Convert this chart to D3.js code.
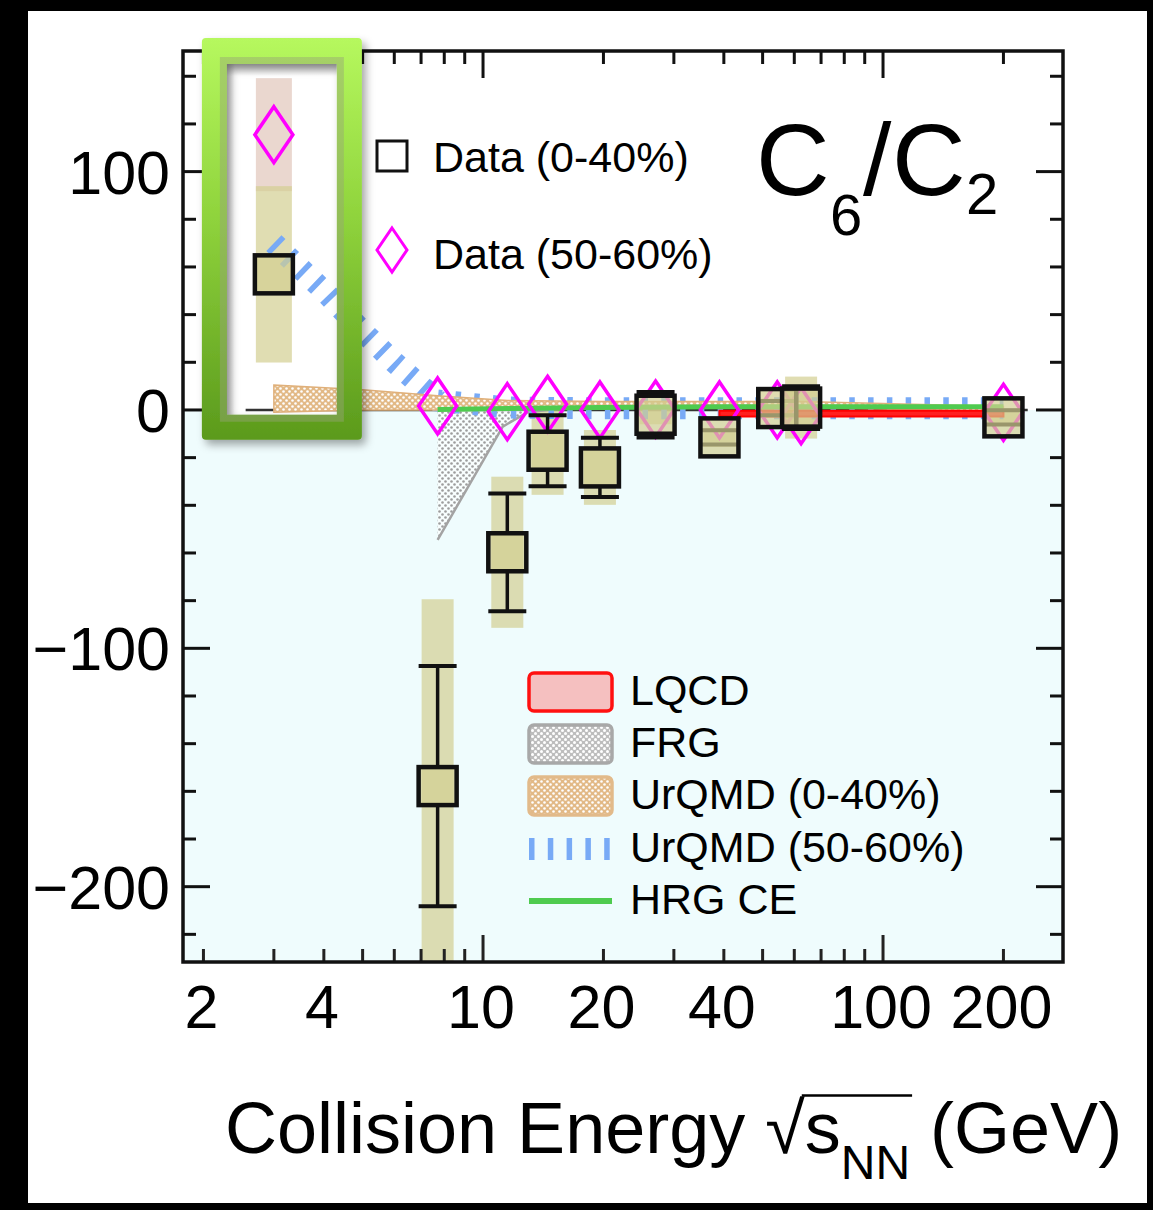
<!DOCTYPE html>
<html>
<head>
<meta charset="utf-8">
<script src="https://cdn.jsdelivr.net/npm/d3@7"></script>
<style>
  html, body { margin: 0; padding: 0; background: #000; }
  svg { display: block; }
  text { font-family: "Liberation Sans", Arial, Helvetica, sans-serif; fill: #000; }
</style>
</head>
<body>
<svg id="chart" width="1153" height="1210"></svg>
<script>
// ---- Measured points: collision energies (GeV) ----
const energies = [3, 7.7, 11.5, 14.5, 19.6, 27, 39, 54.4, 62.4, 200];

// C6/C2, 0-40% centrality
const central      = [56.9, -157.8, -59.7, -17.1, -24.1, -2.0, -11.5, 0.8, 1.0, -3.1];
const centralStat  = [4, 50.4, 24.7, 14.9, 12.4, 9.5, 3, 3, 9, 3];
const centralSys   = [37, 78.4, 31.7, 18.5, 15.7, 4, 4, 4, 13, 3];

// C6/C2, 50-60% centrality
const peripheral    = [115.5, 1.7, -0.7, 2.4, 0.0, 0.4, 0.0, 0.0, -2.4, -1.0];
const peripheralSys = [23.7, 0, 0, 0, 0, 0, 0, 0, 0, 0];

// ---- Model calculations ----
const lqcdEnergy = [39, 54.4, 62.4, 200];
const lqcdLow    = [-2.7, -2.7, -2.7, -2.7];
const lqcdHigh   = [-0.3, -0.3, -0.3, -0.3];

const frgEnergy = [7.7, 11.2, 12.9, 14.5];
const frgLow    = [-54.5, -7, -1, 0];
const frgHigh   = [0.5, 0.5, 0.5, 0.5];

const urqmdCentralEnergy = [3, 5, 7.7, 11.5, 20, 40, 62.4, 200];
const urqmdCentralLow    = [-1, 0, 0, 0.5, 1, 1, 1, -0.5];
const urqmdCentralHigh   = [10.5, 8.5, 6, 4, 3.5, 3.5, 3.5, 1.5];

const urqmdPeriphEnergy = [3, 4, 5, 6, 7.7, 11.5, 20, 40, 62.4, 200];
const urqmdPeriphValue  = [70, 50, 33, 20, 4, 1, 0.7, 0.7, 0.7, 0.7];

const hrgEnergy = [7.7, 11.5, 19.6, 39, 62.4, 200];
const hrgValue  = [0.2, 0.6, 1.0, 1.3, 1.3, 1.4];

// ---- Axis ticks ----
const xMajorTicks = [10, 100];
const xMinorTicks = [2, 3, 4, 5, 6, 7, 8, 9, 20, 30, 40, 50, 60, 70, 80, 90, 200];
const xTickLabels = [2, 4, 10, 20, 40, 100, 200];
const yMajorTicks = [-200, -100, 0, 100];
const yMinorTicks = [-220, -180, -160, -140, -120, -80, -60, -40, -20, 20, 40, 60, 80, 120, 140];
const yTickLabels = [-200, -100, 0, 100];

// ---------------------------------------------------------------
const W = 1153, H = 1210;
const svg = d3.select("#chart");
const plot = { left: 183, right: 1063, top: 51, bottom: 962 };

const x = d3.scaleLog().domain([1.778, 281.8]).range([plot.left, plot.right]);
const y = d3.scaleLinear().domain([-231.6, 150.6]).range([plot.bottom, plot.top]);

const defs = svg.append("defs");
defs.append("clipPath").attr("id", "plotClip")
  .append("rect").attr("x", plot.left).attr("y", plot.top)
  .attr("width", plot.right - plot.left).attr("height", plot.bottom - plot.top);

function dotPattern(id, bg, dot, r) {
  const p = defs.append("pattern").attr("id", id).attr("patternUnits", "userSpaceOnUse")
    .attr("width", 6).attr("height", 6);
  p.append("rect").attr("width", 6).attr("height", 6).attr("fill", bg);
  p.append("circle").attr("cx", 1.5).attr("cy", 1.5).attr("r", r).attr("fill", dot);
  p.append("circle").attr("cx", 4.5).attr("cy", 4.5).attr("r", r).attr("fill", dot);
}
dotPattern("frgFill", "rgba(255,255,255,0.55)", "#9c9c9c", 1.3);
dotPattern("frgKey", "#bdbdbd", "#ffffff", 1.5);
dotPattern("urqmdFill", "#e2b986", "#ffffff", 1.3);

const frameGrad = defs.append("linearGradient").attr("id", "frameGrad")
  .attr("x1", 0).attr("y1", 0).attr("x2", 0).attr("y2", 1);
frameGrad.append("stop").attr("offset", "0%").attr("stop-color", "#b6f85e");
frameGrad.append("stop").attr("offset", "45%").attr("stop-color", "#8fd33c");
frameGrad.append("stop").attr("offset", "100%").attr("stop-color", "#5b9a1c");

const topShade = defs.append("linearGradient").attr("id", "topShade")
  .attr("x1", 0).attr("y1", 0).attr("x2", 0).attr("y2", 1);
topShade.append("stop").attr("offset", "0%").attr("stop-color", "rgba(0,0,0,0.22)");
topShade.append("stop").attr("offset", "100%").attr("stop-color", "rgba(0,0,0,0)");
const leftShade = defs.append("linearGradient").attr("id", "leftShade")
  .attr("x1", 0).attr("y1", 0).attr("x2", 1).attr("y2", 0);
leftShade.append("stop").attr("offset", "0%").attr("stop-color", "rgba(0,0,0,0.14)");
leftShade.append("stop").attr("offset", "100%").attr("stop-color", "rgba(0,0,0,0)");

const shadow = defs.append("filter").attr("id", "frameShadow")
  .attr("x", "-20%").attr("y", "-10%").attr("width", "150%").attr("height", "130%");
shadow.append("feDropShadow").attr("dx", 4).attr("dy", 5).attr("stdDeviation", 4)
  .attr("flood-color", "#000").attr("flood-opacity", 0.35);

// page background
svg.append("rect").attr("width", W).attr("height", H).attr("fill", "#000");
svg.append("rect").attr("x", 28).attr("y", 11).attr("width", 1119).attr("height", 1192).attr("fill", "#fff");

// plot area: white above zero, pale cyan below
svg.append("rect").attr("x", plot.left).attr("y", plot.top)
  .attr("width", plot.right - plot.left).attr("height", y(0) - plot.top).attr("fill", "#ffffff");
svg.append("rect").attr("x", plot.left).attr("y", y(0))
  .attr("width", plot.right - plot.left).attr("height", plot.bottom - y(0)).attr("fill", "#effcfd");

// highlight box around the 3 GeV point
const box = { x0: x(3) - 72, x1: x(3) + 88, y0: y(150.6) - 13, y1: y(-12.5) };
const rim = 25;
svg.append("rect").attr("x", box.x0 + 18).attr("y", box.y0 + 19)
  .attr("width", box.x1 - box.x0 - 36).attr("height", box.y1 - box.y0 - 36).attr("fill", "#fff");

const g = svg.append("g").attr("clip-path", "url(#plotClip)");

// zero reference line
g.append("line").attr("x1", x(2.55)).attr("x2", x(230)).attr("y1", y(0)).attr("y2", y(0))
  .attr("stroke", "#333").attr("stroke-width", 2.5);

// systematic uncertainty boxes
const sysW = 32;
energies.forEach((e, i) => {
  if (peripheralSys[i] > 0) {
    g.append("rect").attr("x", x(e) - sysW / 2 - 2).attr("width", sysW + 4)
      .attr("y", y(peripheral[i] + peripheralSys[i]))
      .attr("height", y(peripheral[i] - peripheralSys[i]) - y(peripheral[i] + peripheralSys[i]))
      .attr("fill", "rgba(205,160,140,0.42)");
  }
});
energies.forEach((e, i) => {
  const w = i === 0 ? sysW + 4 : sysW;
  g.append("rect").attr("x", x(e) - w / 2).attr("width", w)
    .attr("y", y(central[i] + centralSys[i]))
    .attr("height", y(central[i] - centralSys[i]) - y(central[i] + centralSys[i]))
    .attr("fill", "rgba(211,206,146,0.7)");
});

// FRG band
const frgRows = frgEnergy.map((e, i) => ({ e, lo: frgLow[i], hi: frgHigh[i] }));
g.append("path").datum(frgRows)
  .attr("d", d3.area().x(d => x(d.e)).y0(d => y(d.lo)).y1(d => y(d.hi)))
  .attr("fill", "url(#frgFill)");
g.append("path").datum(frgRows)
  .attr("d", d3.line().x(d => x(d.e)).y(d => y(d.lo)))
  .attr("fill", "none").attr("stroke", "#a3a3a3").attr("stroke-width", 2.5);

// UrQMD 50-60%: thick dashed line
const upRows = urqmdPeriphEnergy.map((e, i) => ({ e, v: urqmdPeriphValue[i] }));
g.append("path").datum(upRows)
  .attr("d", d3.line().x(d => x(d.e)).y(d => y(d.v)))
  .attr("fill", "none").attr("stroke", "#78aaf6").attr("stroke-width", 22)
  .attr("stroke-dasharray", "5.5 13.3");

// UrQMD 0-40% band
const ucRows = urqmdCentralEnergy.map((e, i) => ({ e, lo: urqmdCentralLow[i], hi: urqmdCentralHigh[i] }));
g.append("path").datum(ucRows)
  .attr("d", d3.area().x(d => x(d.e)).y0(d => y(d.lo)).y1(d => y(d.hi)))
  .attr("fill", "url(#urqmdFill)").attr("stroke", "#e0b07a").attr("stroke-width", 1.5);

// HRG CE line
const hrgRows = hrgEnergy.map((e, i) => ({ e, v: hrgValue[i] }));
g.append("path").datum(hrgRows)
  .attr("d", d3.line().x(d => x(d.e)).y(d => y(d.v)))
  .attr("fill", "none").attr("stroke", "#4fcb4f").attr("stroke-width", 5);

// LQCD band
const lqRows = lqcdEnergy.map((e, i) => ({ e, lo: lqcdLow[i], hi: lqcdHigh[i] }));
g.append("path").datum(lqRows)
  .attr("d", d3.area().x(d => x(d.e)).y0(d => y(d.lo)).y1(d => y(d.hi)))
  .attr("fill", "#ff2020").attr("stroke", "#ff0000").attr("stroke-width", 2);

// 50-60% diamonds
const dW = 19, dH = 28;
energies.forEach((e, i) => {
  const cx = x(e), cy = y(peripheral[i]);
  g.append("path")
    .attr("d", `M${cx},${cy - dH}L${cx + dW},${cy}L${cx},${cy + dH}L${cx - dW},${cy}Z`)
    .attr("fill", "none").attr("stroke", "#ff00ff").attr("stroke-width", 3.5);
});

// 0-40% statistical error bars and squares
const sq = 38;
energies.forEach((e, i) => {
  const cx = x(e), cy = y(central[i]);
  const top = y(central[i] + centralStat[i]), bot = y(central[i] - centralStat[i]);
  if (cy - top > sq / 2) {
    g.append("line").attr("x1", cx).attr("x2", cx).attr("y1", top).attr("y2", cy - sq / 2)
      .attr("stroke", "#111").attr("stroke-width", 3.5);
    g.append("line").attr("x1", cx).attr("x2", cx).attr("y1", cy + sq / 2).attr("y2", bot)
      .attr("stroke", "#111").attr("stroke-width", 3.5);
  }
  if (i > 0) {
    [top, bot].forEach(yy => g.append("line").attr("x1", cx - sq / 2).attr("x2", cx + sq / 2)
      .attr("y1", yy).attr("y2", yy).attr("stroke", "#111").attr("stroke-width", 4));
  }
  g.append("rect").attr("x", cx - sq / 2).attr("y", cy - sq / 2).attr("width", sq).attr("height", sq)
    .attr("fill", "rgba(211,206,146,0.7)").attr("stroke", "#111").attr("stroke-width", 4.5);
});

// ---- frame and ticks ----
const axes = svg.append("g");
function tickSet(values, len) {
  values.forEach(v => {
    const px = x(v);
    axes.append("line").attr("x1", px).attr("x2", px).attr("y1", plot.bottom).attr("y2", plot.bottom - len)
      .attr("stroke", "#222").attr("stroke-width", 3);
    axes.append("line").attr("x1", px).attr("x2", px).attr("y1", plot.top).attr("y2", plot.top + len)
      .attr("stroke", "#111").attr("stroke-width", 3);
  });
}
tickSet(xMajorTicks, 27);
tickSet(xMinorTicks, 13);
function yTickSet(values, len) {
  values.forEach(v => {
    const py = y(v);
    axes.append("line").attr("x1", plot.left).attr("x2", plot.left + len).attr("y1", py).attr("y2", py)
      .attr("stroke", "#111").attr("stroke-width", 3);
    axes.append("line").attr("x1", plot.right).attr("x2", plot.right - len).attr("y1", py).attr("y2", py)
      .attr("stroke", "#111").attr("stroke-width", 3);
  });
}
yTickSet(yMajorTicks, 27);
yTickSet(yMinorTicks, 13);
axes.append("rect").attr("x", plot.left).attr("y", plot.top)
  .attr("width", plot.right - plot.left).attr("height", plot.bottom - plot.top)
  .attr("fill", "none").attr("stroke", "#111").attr("stroke-width", 3.5);

// tick labels
axes.selectAll("text.xl").data(xTickLabels).join("text").attr("class", "xl")
  .attr("x", d => x(d) - 2).attr("y", 1028).attr("text-anchor", "middle")
  .attr("font-size", 61).text(d => d);
axes.selectAll("text.yl").data(yTickLabels).join("text").attr("class", "yl")
  .attr("x", 170).attr("y", d => y(d)).attr("dy", "0.36em").attr("text-anchor", "end")
  .attr("font-size", 61).text(d => d < 0 ? "\u2212" + Math.abs(d) : d);

// axis title
const title = svg.append("text").attr("x", 225).attr("y", 1153).attr("font-size", 72);
title.append("tspan").text("Collision Energy ");
title.append("tspan").text("\u221A");
title.append("tspan").text("s");
title.append("tspan").attr("font-size", 48).attr("dy", 26).text("NN");
title.append("tspan").attr("dy", -26).text(" (GeV)");
{
  const node = title.node();
  const s = "Collision Energy ".length;
  const radEnd = node.getEndPositionOfChar(s);
  const nnEnd = node.getEndPositionOfChar(s + 3);
  svg.append("line").attr("x1", radEnd.x - 3).attr("x2", nnEnd.x + 2)
    .attr("y1", 1153 - 0.8 * 72).attr("y2", 1153 - 0.8 * 72)
    .attr("stroke", "#000").attr("stroke-width", 2.5);
}

// observable label C6/C2
const obs = svg.append("text").attr("font-size", 102);
obs.append("tspan").attr("x", 756).attr("y", 195).text("C");
obs.append("tspan").attr("x", 830).attr("y", 235).attr("font-size", 58).text("6");
obs.append("tspan").attr("x", 863).attr("y", 195).text("/");
obs.append("tspan").attr("x", 892).attr("y", 195).text("C");
obs.append("tspan").attr("x", 966).attr("y", 214).attr("font-size", 58).text("2");

// legend: data
svg.append("rect").attr("x", 377).attr("y", 141).attr("width", 30).attr("height", 30)
  .attr("fill", "none").attr("stroke", "#111").attr("stroke-width", 3);
svg.append("text").attr("x", 433).attr("y", 172).attr("font-size", 43).text("Data (0-40%)");
svg.append("path").attr("d", "M392,228L407,250L392,272L377,250Z")
  .attr("fill", "none").attr("stroke", "#ff00ff").attr("stroke-width", 3);
svg.append("text").attr("x", 433).attr("y", 269).attr("font-size", 43).text("Data (50-60%)");

// legend: models
const keyX = 529, keyW = 83, keyTextX = 630;
const keyRows = [692, 744, 796, 849, 901];
svg.append("rect").attr("x", keyX).attr("y", keyRows[0] - 19).attr("width", keyW).attr("height", 38)
  .attr("rx", 5).attr("fill", "#f5c0c0").attr("stroke", "#ff1010").attr("stroke-width", 3.5);
svg.append("rect").attr("x", keyX).attr("y", keyRows[1] - 19).attr("width", keyW).attr("height", 38)
  .attr("rx", 5).attr("fill", "url(#frgKey)").attr("stroke", "#a8a8a8").attr("stroke-width", 3.5);
svg.append("rect").attr("x", keyX).attr("y", keyRows[2] - 19).attr("width", keyW).attr("height", 38)
  .attr("rx", 5).attr("fill", "url(#urqmdFill)").attr("stroke", "#e2ba8a").attr("stroke-width", 3.5);
svg.append("line").attr("x1", keyX).attr("x2", keyX + keyW).attr("y1", keyRows[3]).attr("y2", keyRows[3])
  .attr("stroke", "#78aaf6").attr("stroke-width", 22).attr("stroke-dasharray", "5.5 13.3");
svg.append("line").attr("x1", keyX).attr("x2", keyX + keyW).attr("y1", keyRows[4]).attr("y2", keyRows[4])
  .attr("stroke", "#4fcb4f").attr("stroke-width", 6);
const keyLabels = ["LQCD", "FRG", "UrQMD (0-40%)", "UrQMD (50-60%)", "HRG CE"];
svg.selectAll("text.key").data(keyLabels).join("text").attr("class", "key")
  .attr("x", keyTextX).attr("y", (d, i) => keyRows[i] + 13).attr("font-size", 43).text(d => d);

// highlight frame (drawn last, with a hole)
const inner = { x0: box.x0 + rim, x1: box.x1 - rim, y0: box.y0 + rim + 1, y1: box.y1 - rim };
const frame = svg.append("g").attr("filter", "url(#frameShadow)");
frame.append("path")
  .attr("d", `M${box.x0 + 4},${box.y0}H${box.x1 - 4}Q${box.x1},${box.y0} ${box.x1},${box.y0 + 4}` +
             `V${box.y1 - 4}Q${box.x1},${box.y1} ${box.x1 - 4},${box.y1}H${box.x0 + 4}` +
             `Q${box.x0},${box.y1} ${box.x0},${box.y1 - 4}V${box.y0 + 4}Q${box.x0},${box.y0} ${box.x0 + 4},${box.y0}Z` +
             `M${inner.x0},${inner.y0}V${inner.y1}H${inner.x1}V${inner.y0}Z`)
  .attr("fill", "url(#frameGrad)").attr("fill-rule", "evenodd");
svg.append("rect").attr("x", inner.x0 - 3.5).attr("y", inner.y0 - 3.5)
  .attr("width", inner.x1 - inner.x0 + 7).attr("height", inner.y1 - inner.y0 + 7)
  .attr("fill", "none").attr("stroke", "rgba(150,165,120,0.45)").attr("stroke-width", 7);
svg.append("rect").attr("x", inner.x0).attr("y", inner.y0).attr("width", inner.x1 - inner.x0).attr("height", 12)
  .attr("fill", "url(#topShade)");
svg.append("rect").attr("x", inner.x0).attr("y", inner.y0).attr("width", 8).attr("height", inner.y1 - inner.y0)
  .attr("fill", "url(#leftShade)");
</script>
</body>
</html>
